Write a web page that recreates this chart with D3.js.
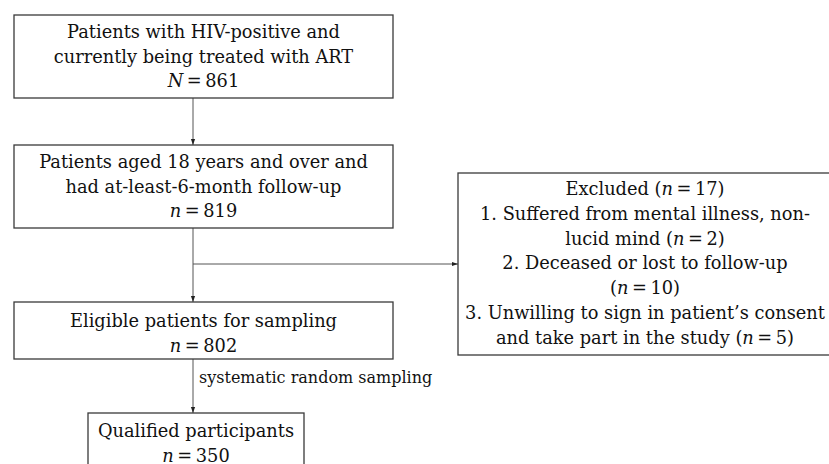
<!DOCTYPE html>
<html>
<head>
<meta charset="utf-8">
<style>
  body { margin: 0; background: #fff; }
  svg { display: block; }
  .box { fill: #fff; stroke: #3a3a3a; stroke-width: 1.3; }
  .link { stroke: #555; stroke-width: 1; fill: none; }
  text { font-family: "DejaVu Serif", "Liberation Serif", serif; fill: #111; }
</style>
</head>
<body>
<svg width="829" height="464"></svg>
<script src="https://d3js.org/d3.v7.min.js"></script>
<script>
// flow stages, top to bottom
const stageLines = [
  ["Patients with HIV-positive and", "currently being treated with ART"],
  ["Patients aged 18 years and over and", "had at-least-6-month follow-up"],
  ["Eligible patients for sampling"],
  ["Qualified participants"]
];
const stageSymbols = ["N", "n", "n", "n"];
const stageCounts = [861, 819, 802, 350];

// exclusions between stage 2 and 3
const excludedTotal = 17;
const exclusionLines = [
  ["1. Suffered from mental illness, non-", "lucid mind"],
  ["2. Deceased or lost to follow-up", ""],
  ["3. Unwilling to sign in patient\u2019s consent", "and take part in the study"]
];
const exclusionCounts = [2, 10, 5];

const samplingLabel = "systematic random sampling";

let svg = d3.select("svg")
let defs = svg.append("defs")
defs.append("marker")
  .attr("id", "head")
  .attr("viewBox", "0 0 10 10")
  .attr("refX", 10).attr("refY", 5)
  .attr("markerWidth", 6).attr("markerHeight", 6)
  .attr("orient", "auto")
  .append("path")
  .attr("d", "M0,1.5L10,5L0,8.5Z")
  .style("fill", "#222")

// box geometry
let boxes = [
  {x: 14, y: 15, w: 379, h: 83, first: 38},
  {x: 14, y: 145, w: 379, h: 83, first: 168},
  {x: 14, y: 302, w: 379, h: 57, first: 327},
  {x: 88, y: 413, w: 216, h: 70, first: 437}
]
let lineH = 24.5
let arrowX = 193
let fontSize = 17.8
let eq = "\u2009=\u2009"

// write a line; "n =" / "N =" symbol in italics
function writeLine(sel, str, cx, y, size) {
  let t = sel.append("text")
    .attr("x", cx).attr("y", y)
    .attr("text-anchor", "middle")
    .style("font-size", size + "px")
  let parts = str.split(/\b([nN])(?=\u2009=)/)
  parts.forEach((p, i) => {
    if (p === "") return
    t.append("tspan")
      .style("font-style", i % 2 === 1 ? "italic" : "normal")
      .text(p)
  })
  return t
}

let g = svg.append("g")

// arrows between stages
for (let i = 0; i < boxes.length - 1; i++) {
  g.append("line").attr("class", "link")
    .attr("x1", arrowX).attr("x2", arrowX)
    .attr("y1", boxes[i].y + boxes[i].h)
    .attr("y2", boxes[i + 1].y)
    .attr("marker-end", "url(#head)")
}

// branch to excluded box
let ex = {x: 458, y: 173, w: 378, h: 182, first: 195}
let branchY = 264
g.append("line").attr("class", "link")
  .attr("x1", arrowX).attr("x2", ex.x)
  .attr("y1", branchY).attr("y2", branchY)
  .attr("marker-end", "url(#head)")

// stage boxes
boxes.forEach((b, i) => {
  g.append("rect").attr("class", "box")
    .attr("x", b.x).attr("y", b.y).attr("width", b.w).attr("height", b.h)
  let lines = stageLines[i].concat([stageSymbols[i] + eq + stageCounts[i]])
  lines.forEach((l, j) => {
    writeLine(g, l, b.x + b.w / 2, b.first + j * lineH, fontSize)
  })
})

// excluded box
g.append("rect").attr("class", "box")
  .attr("x", ex.x).attr("y", ex.y).attr("width", ex.w).attr("height", ex.h)
let exLines = ["Excluded (n" + eq + excludedTotal + ")"]
exclusionLines.forEach((ls, i) => {
  let cnt = "(n" + eq + exclusionCounts[i] + ")"
  exLines.push(ls[0])
  exLines.push(ls[1] ? ls[1] + " " + cnt : cnt)
})
exLines.forEach((l, j) => {
  writeLine(g, l, 645, ex.first + j * 24.8, fontSize)
})

// sampling label
g.append("text")
  .attr("x", 199).attr("y", 383)
  .style("font-size", "16px")
  .text(samplingLabel)
</script>
</body>
</html>
